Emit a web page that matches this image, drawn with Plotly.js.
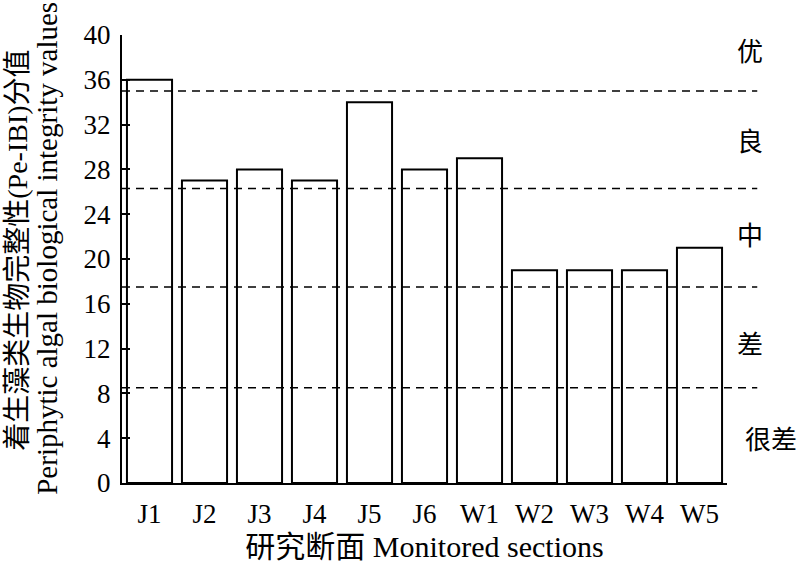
<!DOCTYPE html>
<html>
<head>
<meta charset="utf-8">
<script src="https://cdn.plot.ly/plotly-3.0.1.min.js"></script>
<style>html,body{margin:0;padding:0;background:#fff;}</style>
</head>
<body>
<div id="chart" style="width:800px;height:566px;"></div>
<script>
const sections = ["J1","J2","J3","J4","J5","J6","W1","W2","W3","W4","W5"];
const ibiValues = [36, 27, 28, 27, 34, 28, 29, 19, 19, 19, 21];
const yTicks = [0, 4, 8, 12, 16, 20, 24, 28, 32, 36, 40];
const thresholds = [35, 26.3, 17.5, 8.5];
const gradeLabels = ["优", "良", "中", "差", "很差"];
const gradeLabelY = [38.4, 30.4, 22.0, 12.3, 3.8];

const FONT = '"Liberation Serif", "Times New Roman", "Noto Sans CJK SC", serif';

const trace = {
  type: 'bar',
  x: sections,
  y: ibiValues,
  marker: {color: '#ffffff', line: {color: '#000000', width: 2}},
  hoverinfo: 'x+y'
};

const shapes = thresholds.map(t => ({
  type: 'line', xref: 'paper', yref: 'y',
  x0: 0, x1: 1.05, y0: t, y1: t,
  line: {color: '#000', width: 1.5, dash: '8px,6px'}
}));

const annotations = gradeLabels.map((g, i) => ({
  xref: 'paper', yref: 'y',
  x: g.length > 1 ? 1.072 : 1.038, y: gradeLabelY[i],
  text: g, showarrow: false,
  font: {family: FONT, size: 26, color: '#000'},
  xanchor: 'center', yanchor: 'middle'
}));

annotations.push({
  xref: 'paper', yref: 'paper', x: -0.174, y: 0.52,
  text: '着生藻类生物完整性(Pe-IBI)分值', textangle: -90, showarrow: false,
  font: {family: FONT, size: 28, color: '#000'},
  xanchor: 'center', yanchor: 'middle'
});
annotations.push({
  xref: 'paper', yref: 'paper', x: -0.124, y: 0.525,
  text: 'Periphytic algal biological integrity values', textangle: -90, showarrow: false,
  font: {family: FONT, size: 29, color: '#000'},
  xanchor: 'center', yanchor: 'middle'
});

const layout = {
  width: 800, height: 566,
  margin: {l: 122, r: 73, t: 35, b: 83},
  paper_bgcolor: '#fff', plot_bgcolor: '#fff',
  showlegend: false,
  bargap: 0.18,
  font: {family: FONT, size: 27, color: '#000'},
  xaxis: {
    type: 'category', range: [-0.5, 10.5],
    showline: true, linecolor: '#000', linewidth: 2,
    ticks: '', showgrid: false, zeroline: false,
    ticklabelstandoff: 6,
    tickfont: {family: FONT, size: 27, color: '#000'},
    title: {text: '研究断面 Monitored sections', font: {family: FONT, size: 30, color: '#000'}, standoff: 8}
  },
  yaxis: {
    range: [0, 40], tickvals: yTicks, ticktext: yTicks.map(String),
    showline: true, linecolor: '#000', linewidth: 2,
    ticks: 'inside', ticklen: 8, tickwidth: 2, tickcolor: '#000',
    ticklabelstandoff: 4,
    showgrid: false, zeroline: false,
    tickfont: {family: FONT, size: 27, color: '#000'}
  },
  shapes: shapes,
  annotations: annotations
};

Plotly.newPlot('chart', [trace], layout, {displayModeBar: false, staticPlot: true});
</script>
</body>
</html>
